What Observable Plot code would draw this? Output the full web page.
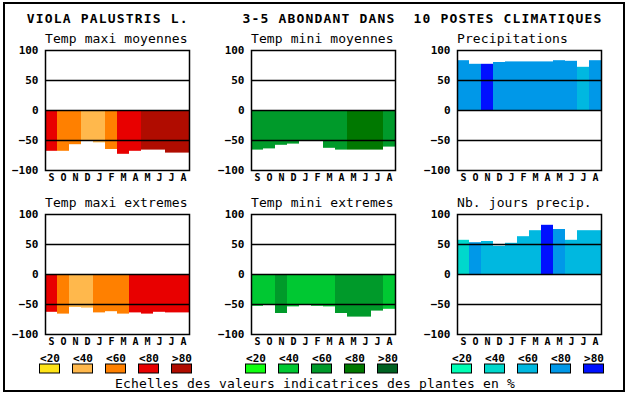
<!DOCTYPE html>
<html><head><meta charset="utf-8">
<script src="https://cdn.jsdelivr.net/npm/d3@7"></script>
<script src="https://cdn.jsdelivr.net/npm/@observablehq/plot@0.6"></script>
<style>
html,body{margin:0;padding:0;background:#fff;}
#root{position:relative;width:630px;height:394px;overflow:hidden;font-family:"DejaVu Sans Mono",monospace;background:#fff;}
.border{position:absolute;left:3px;top:2px;width:622px;height:390px;box-sizing:border-box;border:2px solid #000;}
.t{position:absolute;white-space:pre;line-height:13px;font-size:13px;color:#000;}
.p{position:absolute;}
</style></head><body><div id="root"><div class="border"></div></div>
<script>
// ---- data ----
const months = ["S","O","N","D","J","F","M","A","M","J","J","A"];
const classes = ["<20","<40","<60","<80",">80"];
const warmColors = ["#ffe418","#ffb84c","#ff8000","#e80000","#b00c00"];
const greenColors = ["#10ff10","#00c832","#009a2a","#007800","#006222"];
const blueColors = ["#00ffb4","#00d8cc","#00b8e0","#0098e8","#0010ff"];
const yTicks = [100, 50, 0, -50, -100];
const yGrid = [50, 0, -50];

const tmaxMoy    = [-68,-68,-57,-51,-54,-65,-73,-68,-66,-66,-71,-71];
const tmaxMoyCls = [3,2,2,1,1,2,3,3,4,4,4,4];
const tminMoy    = [-66,-64,-58,-56,-51,-51,-63,-66,-66,-66,-66,-61];
const tminMoyCls = [2,2,2,2,2,2,2,2,3,3,3,2];
const precip     = [83,77,77,80,81,81,81,81,83,82,72,83];
const precipCls  = [3,3,4,3,3,3,3,3,3,3,2,3];
const tmaxExt    = [-63,-66,-55,-56,-64,-62,-66,-64,-66,-63,-64,-64];
const tmaxExtCls = [3,2,1,1,2,2,2,3,3,3,3,3];
const tminExt    = [-53,-51,-65,-54,-51,-53,-54,-65,-71,-71,-61,-58];
const tminExtCls = [1,1,2,1,1,1,1,2,2,2,2,1];
const nbJours    = [57,53,55,47,52,63,73,82,75,57,73,73];
const nbJoursCls = [1,3,2,2,2,2,2,4,3,2,2,2];

const mainTitle = "VIOLA PALUSTRIS L.      3-5 ABONDANT DANS  10 POSTES CLIMATIQUES";
const panelTitles = ["Temp maxi moyennes","Temp mini moyennes","Precipitations",
                     "Temp maxi extremes","Temp mini extremes","Nb. jours precip."];
const caption = "Echelles des valeurs indicatrices des plantes en %";

// ---- layout ----
const root = document.getElementById("root");
const boxLefts = [45, 251, 457];
const boxTops = [50, 214];

function addText(txt, left, top, extra) {
  const d = document.createElement("div");
  d.className = "t";
  d.textContent = txt;
  d.style.left = left + "px";
  d.style.top = top + "px";
  Object.assign(d.style, extra || {});
  root.appendChild(d);
  return d;
}

const svgStyle = {fontFamily: "DejaVu Sans Mono, monospace", fontSize: "11px", fontWeight: "bold", background: "transparent", overflow: "visible", color: "black"};

function panel(vals, cls, palette, boxLeft, boxTop) {
  const data = vals.map((v, i) => ({i, v, c: classes[cls[i]]}));
  const svg = Plot.plot({
    width: 200, height: 150, marginLeft: 40, marginRight: 16, marginTop: 10, marginBottom: 20,
    x: {type: "band", domain: d3.range(12), padding: 0, axis: null, label: null},
    y: {domain: [-100, 100], axis: null, label: null},
    color: {domain: classes, range: palette},
    style: svgStyle,
    marks: [
      Plot.barY(data, {x: "i", y: "v", fill: "c"}),
      Plot.ruleY(yGrid, {stroke: "black", strokeWidth: 1.5}),
      Plot.frame({stroke: "black", strokeWidth: 1.5}),
      Plot.axisY(yTicks, {tickSize: 0, tickPadding: 7, label: null, fontWeight: "bold", fontSize: 11}),
      Plot.axisX(d3.range(12), {tickSize: 0, tickPadding: 3, label: null, tickFormat: i => months[i], fontWeight: "bold", fontSize: 10})
    ]
  });
  svg.classList.add("p");
  svg.style.left = (boxLeft - 40) + "px";
  svg.style.top = (boxTop - 10) + "px";
  root.appendChild(svg);
}

function legend(palette, boxLeft) {
  const svg = Plot.plot({
    width: 200, height: 30, marginTop: 17, marginBottom: 4, marginLeft: 0, marginRight: 0,
    x: {type: "band", domain: classes, range: [27.5, 192.5], padding: 0, axis: null},
    color: {domain: classes, range: palette},
    style: svgStyle,
    marks: [
      Plot.cell(classes, {x: d => d, fill: d => d, stroke: "black", strokeWidth: 1, insetLeft: 6.5, insetRight: 6.5}),
      Plot.text(classes, {x: d => d, text: d => d, frameAnchor: "top", dy: -10, fontWeight: "bold", fontSize: 11, fill: "black"})
    ]
  });
  svg.classList.add("p");
  svg.style.left = (boxLeft - 40) + "px";
  svg.style.top = "347px";
  root.appendChild(svg);
}

addText(mainTitle, 26.7, 12, {letterSpacing: "1.17px", fontWeight: "bold"});
const tops = [32, 196];
panelTitles.forEach((t, k) => addText(t, boxLefts[k % 3], tops[Math.floor(k / 3)], {letterSpacing: "0.1px"}));

panel(tmaxMoy, tmaxMoyCls, warmColors, boxLefts[0], boxTops[0]);
panel(tminMoy, tminMoyCls, greenColors, boxLefts[1], boxTops[0]);
panel(precip, precipCls, blueColors, boxLefts[2], boxTops[0]);
panel(tmaxExt, tmaxExtCls, warmColors, boxLefts[0], boxTops[1]);
panel(tminExt, tminExtCls, greenColors, boxLefts[1], boxTops[1]);
panel(nbJours, nbJoursCls, blueColors, boxLefts[2], boxTops[1]);

legend(warmColors, boxLefts[0]);
legend(greenColors, boxLefts[1]);
legend(blueColors, boxLefts[2]);

const cap = addText(caption, 0, 377, {width: "630px", textAlign: "center", letterSpacing: "0.17px"});
</script></body></html>
